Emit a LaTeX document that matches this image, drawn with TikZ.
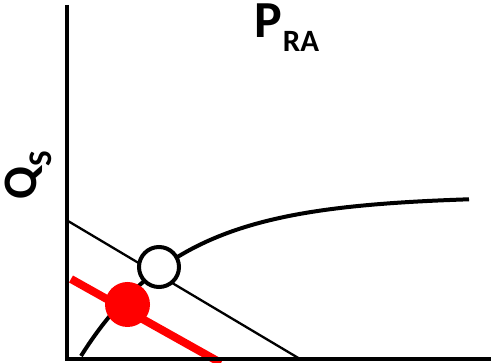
\documentclass[tikz,border=0pt]{standalone}
\usepackage{fontspec}
\setmainfont{Carlito}
\begin{document}
\begin{tikzpicture}[x=1pt,y=-1pt,
  axis/.style={line width=4pt},
  thinline/.style={line width=2.3pt},
  curveline/.style={line width=4pt},
  redline/.style={line width=8pt, red},
  opendot/.style={circle, draw, fill=white, line width=4pt, minimum size=40pt, inner sep=0pt},
  reddot/.style={circle, fill=red, minimum size=45pt, inner sep=0pt},
  lbl/.style={inner sep=0pt, font=\bfseries}
]
\useasboundingbox (0,0) rectangle (491,363);
% coordinates
\coordinate (ytop) at (67,5);
\coordinate (origin) at (67,359.5);
\coordinate (xend) at (491,359.5);
\coordinate (t1) at (68,221);
\coordinate (t2) at (300,359);
\coordinate (r1) at (71,279);
\coordinate (r2) at (221,363);
% red line (under axes)
\draw[redline] (r1) -- (r2);
% thin line
\draw[thinline] (t1) -- (t2);
% curve
\draw[curveline] plot[domain=81:469, samples=100] (\x, {356 - 160*(1-exp(-(\x-81)/100))});
% axes
\draw[axis] (ytop) -- (origin.center) -- (xend);
\draw[axis] (65,359.5) -- (origin);
% dots
\node[opendot] (open) at (159,267) {};
\node[reddot] (fill) at (127.5,304.5) {};
% labels
\node[lbl, anchor=base west] (pra) at (254,37.5) {\fontsize{52}{52}\selectfont P\hspace{1pt}\raisebox{-14.5pt}{\fontsize{31}{31}\selectfont RA}};
\node[lbl, anchor=base west, rotate=90] (qs) at (36,200) {\fontsize{48}{48}\selectfont Q\raisebox{-16pt}{\fontsize{33}{33}\selectfont S}};
\end{tikzpicture}
\end{document}
